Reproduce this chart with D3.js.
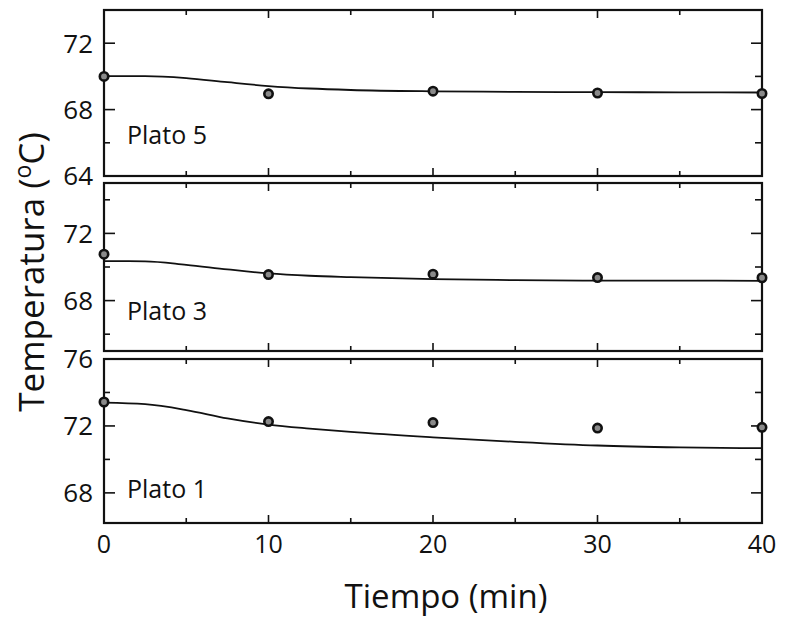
<!DOCTYPE html>
<html>
<head>
<meta charset="utf-8">
<script src="https://cdn.jsdelivr.net/npm/d3@7"></script>
<style>
  html, body { margin: 0; padding: 0; background: #fff; }
  svg { display: block; }
  text { font-family: "Open Sans", "Noto Sans", sans-serif; fill: #111; }
</style>
</head>
<body>
<svg id="chart" width="785" height="620"></svg>
<script>
// ---- Data ----
const timePoints = [0, 10, 20, 30, 40];
const panelNames = ["Plato 5", "Plato 3", "Plato 1"];
const plato5Points = [70.0, 68.95, 69.11, 69.0, 68.97];
const plato3Points = [70.76, 69.55, 69.57, 69.37, 69.36];
const plato1Points = [73.43, 72.26, 72.2, 71.87, 71.92];
const curveTimes = [0, 2.5, 5, 7.5, 10, 12.5, 15, 20, 25, 30, 35, 40];
const plato5Curve = [70.02, 70.02, 69.9, 69.65, 69.42, 69.27, 69.18, 69.1, 69.07, 69.05, 69.04, 69.03];
const plato3Curve = [70.35, 70.34, 70.13, 69.86, 69.62, 69.48, 69.4, 69.28, 69.22, 69.19, 69.19, 69.18];
const plato1Curve = [73.39, 73.3, 72.95, 72.45, 72.08, 71.84, 71.64, 71.32, 71.05, 70.83, 70.72, 70.67];
const xTicks = [0, 10, 20, 30, 40];
const xMinorTicks = [5, 15, 25, 35];
const plato5YLabels = [64, 68, 72];
const plato3YLabels = [68, 72];
const plato1YLabels = [68, 72, 76];
const plato5YMinor = [66, 70];
const plato3YMinor = [66, 70, 74];
const plato1YMinor = [70, 74];
const xTitle = "Tiempo (min)";

// ---- Layout ----
const svg = d3.select("#chart");
const xLeft = 104, xRight = 762;
const x = d3.scaleLinear().domain([0, 40]).range([xLeft, xRight]);

const panels = [
  { name: panelNames[0], pts: plato5Points, curve: plato5Curve, domain: [64, 74], top: 10, bottom: 176,
    labels: plato5YLabels, major: [68, 72], minor: plato5YMinor, labelY: 144 },
  { name: panelNames[1], pts: plato3Points, curve: plato3Curve, domain: [65, 75], top: 183, bottom: 351,
    labels: plato3YLabels, major: [68, 72], minor: plato3YMinor, labelY: 320 },
  { name: panelNames[2], pts: plato1Points, curve: plato1Curve, domain: [66.2, 76], top: 359, bottom: 523,
    labels: plato1YLabels, major: [68, 72], minor: plato1YMinor, labelY: 498 }
];

panels.forEach(p => {
  const y = d3.scaleLinear().domain(p.domain).range([p.bottom, p.top]);
  const g = svg.append("g");

  // curve
  const line = d3.line().x((d, i) => x(curveTimes[i])).y(d => y(d)).curve(d3.curveMonotoneX);
  g.append("path").datum(p.curve).attr("d", line)
    .attr("fill", "none").attr("stroke", "#111").attr("stroke-width", 1.8);

  // ticks: x (top and bottom, inward)
  const tk = g.append("g").attr("stroke", "#111").attr("stroke-width", 1.6);
  xTicks.slice(1, -1).forEach(t => {
    tk.append("line").attr("x1", x(t)).attr("x2", x(t)).attr("y1", p.bottom).attr("y2", p.bottom - 8);
    tk.append("line").attr("x1", x(t)).attr("x2", x(t)).attr("y1", p.top).attr("y2", p.top + 8);
  });
  xMinorTicks.forEach(t => {
    tk.append("line").attr("x1", x(t)).attr("x2", x(t)).attr("y1", p.bottom).attr("y2", p.bottom - 5);
    tk.append("line").attr("x1", x(t)).attr("x2", x(t)).attr("y1", p.top).attr("y2", p.top + 5);
  });
  // y ticks left and right
  p.major.forEach(v => {
    tk.append("line").attr("x1", xLeft).attr("x2", xLeft + 11).attr("y1", y(v)).attr("y2", y(v));
    tk.append("line").attr("x1", xRight).attr("x2", xRight - 11).attr("y1", y(v)).attr("y2", y(v));
  });
  p.minor.forEach(v => {
    tk.append("line").attr("x1", xLeft).attr("x2", xLeft + 6).attr("y1", y(v)).attr("y2", y(v));
    tk.append("line").attr("x1", xRight).attr("x2", xRight - 7).attr("y1", y(v)).attr("y2", y(v));
  });

  // frame
  g.append("rect").attr("x", xLeft).attr("y", p.top)
    .attr("width", xRight - xLeft).attr("height", p.bottom - p.top)
    .attr("fill", "none").attr("stroke", "#111").attr("stroke-width", 2.2);

  // y labels
  g.selectAll("text.yl").data(p.labels).enter().append("text")
    .attr("x", 93).attr("y", d => y(d)).attr("dy", "0.36em")
    .attr("text-anchor", "end").attr("font-size", 26).text(d => d);

  // points
  g.selectAll("circle").data(p.pts).enter().append("circle")
    .attr("cx", (d, i) => x(timePoints[i])).attr("cy", d => y(d)).attr("r", 4.2)
    .attr("fill", "#8a8a8a").attr("stroke", "#111").attr("stroke-width", 2.6);

  // panel label
  g.append("text").attr("x", 127).attr("y", p.labelY)
    .attr("font-size", 25).text(p.name);
});

// x tick labels
svg.selectAll("text.xl").data(xTicks).enter().append("text")
  .attr("x", d => x(d)).attr("y", 553).attr("text-anchor", "middle")
  .attr("font-size", 25).text(d => d);

// x title
svg.append("text").attr("x", 446).attr("y", 608).attr("text-anchor", "middle")
  .attr("font-size", 33).text(xTitle);

// y title
const yt = svg.append("text").attr("transform", "translate(44,272) rotate(-90)")
  .attr("text-anchor", "middle").attr("font-size", 35);
yt.append("tspan").text("Temperatura (");
yt.append("tspan").attr("font-size", 23).attr("dy", -13).text("o");
yt.append("tspan").attr("dy", 13).text("C)");
</script>
</body>
</html>
